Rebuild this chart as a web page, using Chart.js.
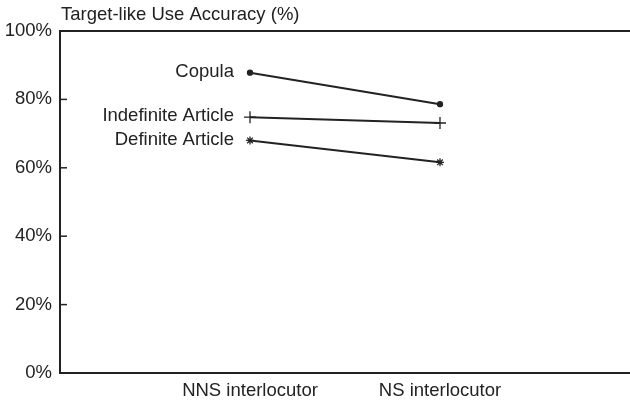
<!DOCTYPE html>
<html>
<head>
<meta charset="utf-8">
<script src="https://cdn.jsdelivr.net/npm/chart.js@4"></script>
<style>
  html, body { margin: 0; padding: 0; background: #fff; }
  #wrap { width: 630px; height: 404px; }
</style>
</head>
<body>
<div id="wrap"><canvas id="accChart" width="630" height="404"></canvas></div>
<script>
// chart data
const categories = ['', 'NNS interlocutor', 'NS interlocutor', ''];
const seriesNames = ['Copula', 'Indefinite Article', 'Definite Article'];
const copula = [null, 87.8, 78.6, null];
const indefArticle = [null, 74.8, 73.1, null];
const defArticle = [null, 68.0, 61.6, null];
const yTicks = [0, 20, 40, 60, 80, 100];
const yTitle = 'Target-like Use Accuracy (%)';

const ink = '#222';
const font = 'Liberation Sans, Arial, Helvetica, sans-serif';
const fontSize = 18.5;

// inward y ticks, top border, title and series labels
const decorations = {
  id: 'decorations',
  afterDraw(chart) {
    const ctx = chart.ctx;
    const area = chart.chartArea;
    const y = chart.scales.y;
    ctx.save();
    ctx.strokeStyle = ink;
    ctx.lineWidth = 2;
    ctx.beginPath();
    ctx.moveTo(area.left - 1, area.top);
    ctx.lineTo(chart.width, area.top);
    ctx.stroke();
    ctx.lineWidth = 1.5;
    yTicks.forEach(v => {
      const py = y.getPixelForValue(v);
      ctx.beginPath();
      ctx.moveTo(area.left, py);
      ctx.lineTo(area.left + 7, py);
      ctx.stroke();
    });
    ctx.fillStyle = ink;
    ctx.font = fontSize + 'px ' + font;
    ctx.textBaseline = 'middle';
    ctx.textAlign = 'left';
    ctx.fillText(yTitle, area.left + 1, area.top - 16);
    ctx.textAlign = 'right';
    chart.data.datasets.forEach((ds, i) => {
      const pt = chart.getDatasetMeta(i).data[1];
      ctx.fillText(ds.label, pt.x - 16, pt.y - 1);
    });
    ctx.restore();
  }
};

function series(label, data, style, radius) {
  return {
    label: label,
    data: data,
    borderColor: ink,
    backgroundColor: ink,
    borderWidth: 2,
    pointStyle: style,
    pointRadius: radius,
    pointBorderWidth: 1.3,
    pointBorderColor: ink,
    pointBackgroundColor: ink,
    spanGaps: false
  };
}

new Chart(document.getElementById('accChart'), {
  type: 'line',
  data: {
    labels: categories,
    datasets: [
      series(seriesNames[0], copula, 'circle', 2.5),
      series(seriesNames[1], indefArticle, 'cross', 6),
      series(seriesNames[2], defArticle, 'star', 4)
    ]
  },
  options: {
    responsive: false,
    animation: false,
    layout: { autoPadding: false, padding: { top: 31, right: 0, left: 0, bottom: 0 } },
    plugins: {
      legend: { display: false },
      tooltip: { enabled: false }
    },
    scales: {
      x: {
        offset: false,
        grid: { display: false, drawTicks: false },
        border: { display: true, color: ink, width: 2 },
        afterFit(scale) {
          scale.paddingLeft = 0;
          scale.paddingRight = 0;
          scale.height = 31;
        },
        ticks: {
          color: ink,
          font: { family: font, size: fontSize },
          padding: 7,
          maxRotation: 0,
          autoSkip: false
        }
      },
      y: {
        min: 0,
        max: 100,
        grid: { display: false, drawTicks: false },
        border: { display: true, color: ink, width: 2 },
        afterBuildTicks(scale) {
          scale.ticks = yTicks.map(v => ({ value: v }));
        },
        afterFit(scale) { scale.width = 60; },
        ticks: {
          color: ink,
          font: { family: font, size: fontSize },
          padding: 8,
          callback: v => v + '%'
        }
      }
    }
  },
  plugins: [decorations]
});
</script>
</body>
</html>
